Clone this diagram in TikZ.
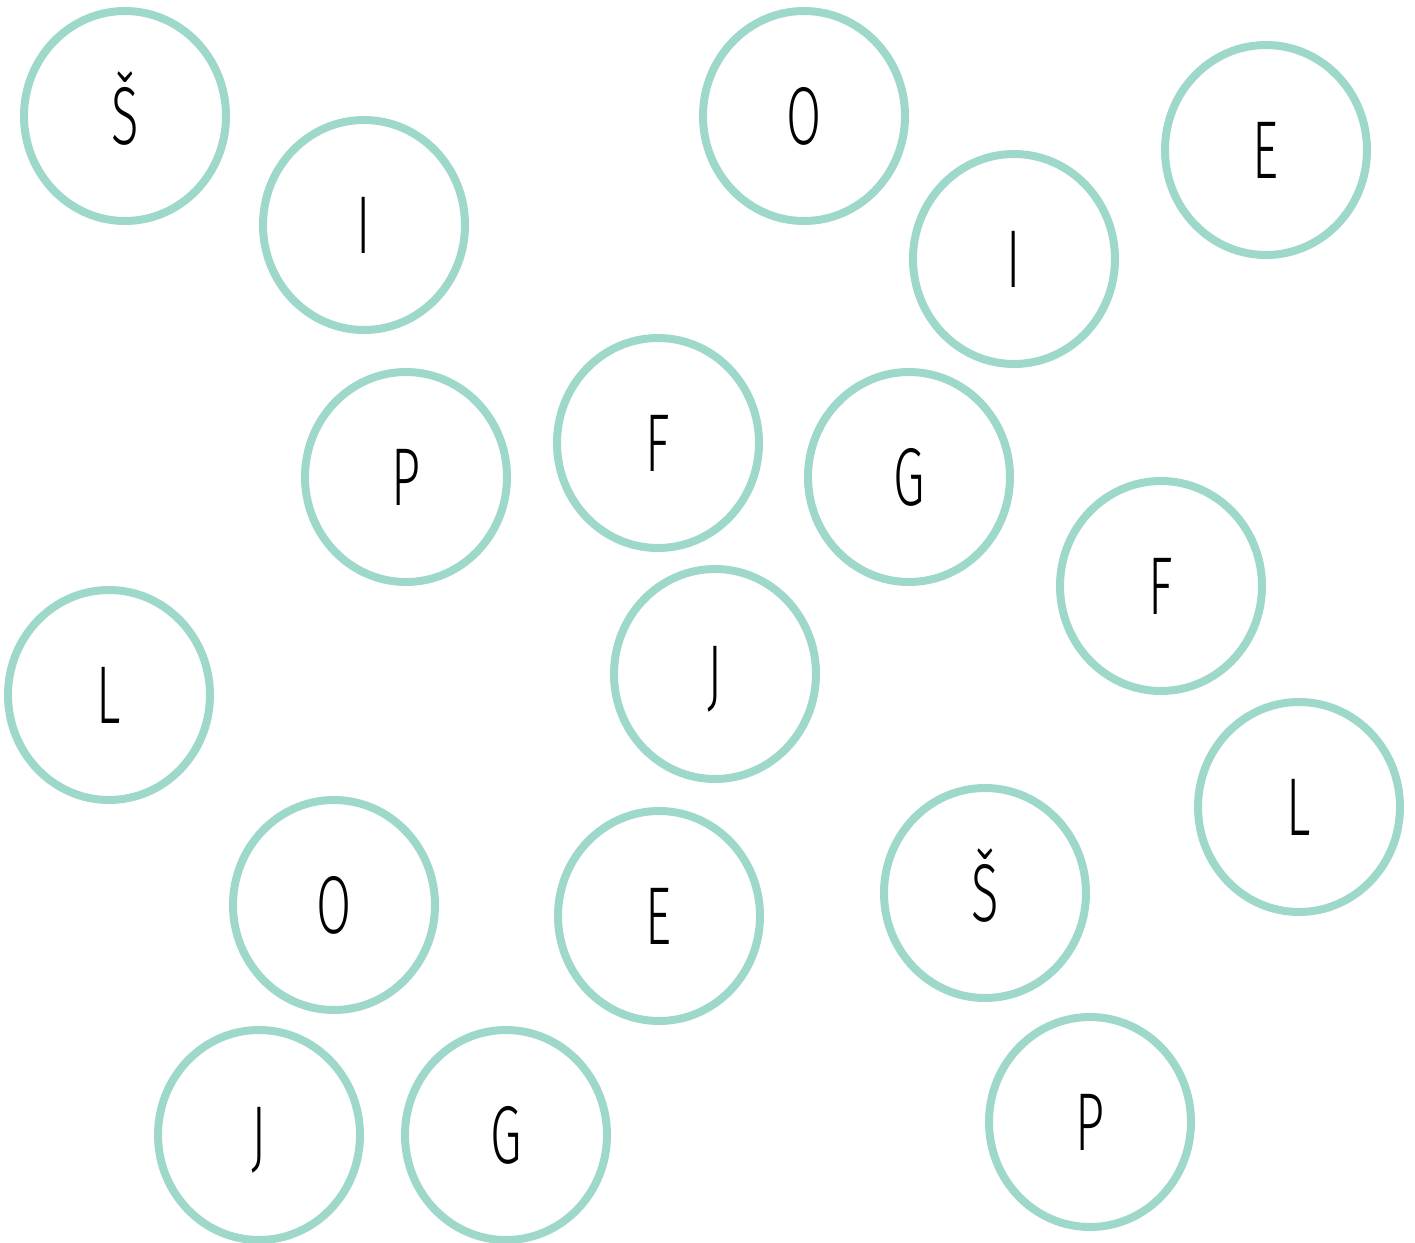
\documentclass[tikz,border=0pt]{standalone}
\usepackage{fontspec}
\usepackage{xcolor}
\usepackage{tikz}
\usetikzlibrary{shapes.geometric}
\newfontfamily\letterfont[FakeStretch=0.62]{Fira Sans Light}
\definecolor{mintring}{RGB}{157,216,203}

\begin{document}
\begin{tikzpicture}[
        x=0.5pt, y=-0.5pt,
        letter/.style={
            ellipse,
            draw=mintring,
            line width=4pt,
            minimum width=101pt,
            minimum height=105pt,
            inner sep=0pt,
            text=black,
            text height=28.5pt,
            text depth=0pt,
            font=\letterfont\fontsize{41}{41}\selectfont
        }
    ]

    \useasboundingbox (0,0) rectangle (1415,1243);

    % top row
    \node (s1) [letter] at (125,116) {Š};
    \node (i1) [letter] at (364,225) {I};
    \node (o1) [letter] at (804,116) {O};
    \node (i2) [letter] at (1014,259) {I};
    \node (e1) [letter] at (1266,150) {E};

    % middle
    \node (p1) [letter] at (406,477) {P};
    \node (f1) [letter] at (658,443) {F};
    \node (g1) [letter] at (909,477) {G};
    \node (f2) [letter] at (1161,586) {F};
    \node (l1) [letter] at (109,695) {L};
    \node (j1) [letter] at (715,674) {J};
    \node (l2) [letter] at (1299,807) {L};

    % bottom
    \node (o2) [letter] at (334,905) {O};
    \node (e2) [letter] at (659,916) {E};
    \node (s2) [letter] at (985,893) {Š};
    \node (j2) [letter] at (259,1135) {J};
    \node (g2) [letter] at (506,1135) {G};
    \node (p2) [letter] at (1090,1122) {P};

\end{tikzpicture}
\end{document}
